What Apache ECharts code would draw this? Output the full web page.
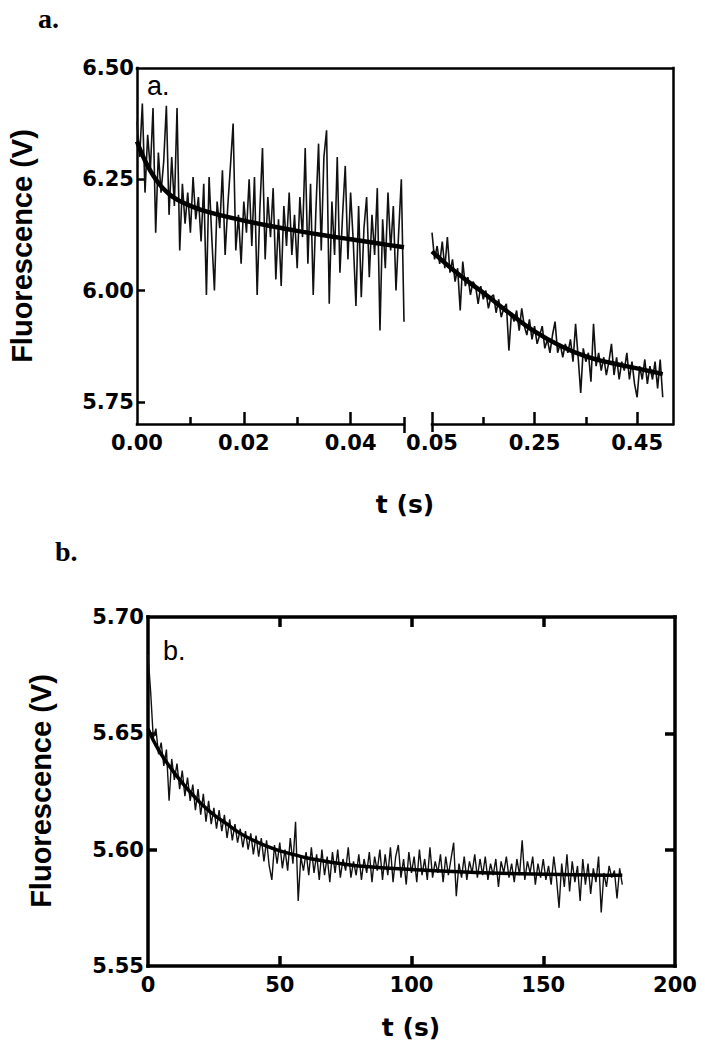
<!DOCTYPE html>
<html><head><meta charset="utf-8">
<script src="https://cdn.jsdelivr.net/npm/echarts@6/dist/echarts.min.js"></script>
<style>html,body{margin:0;padding:0;background:#fff}#c{width:705px;height:1050px}</style>
</head><body><div id="c"></div>
<script>
// ---------- Panel a, early phase (0 - 0.05 s) ----------
const aEarlyStart = 0;
const aEarlyStep = 0.0005;
const aEarlyTrace = [
6.38,6.30,6.42,6.22,6.35,6.27,6.41,6.13,6.31,6.22,
6.29,6.415,6.17,6.30,6.19,6.41,6.09,6.24,6.15,6.22,
6.13,6.255,6.16,6.21,6.11,6.24,5.99,6.255,6.12,6.00,
6.20,6.14,6.27,6.08,6.19,6.28,6.375,6.09,6.17,6.06,
6.20,6.13,6.25,6.10,6.255,5.99,6.18,6.32,6.07,6.21,
6.12,6.23,6.025,6.16,6.01,6.19,6.10,6.22,6.08,6.17,
6.05,6.21,6.12,6.32,6.06,6.24,5.99,6.18,6.33,6.09,
6.30,6.36,5.97,6.20,6.08,6.30,6.04,6.17,6.28,6.07,
6.22,6.11,5.965,6.19,5.985,6.14,6.21,6.03,6.17,6.08,
6.23,5.91,6.16,6.05,6.22,6.09,6.19,6.00,6.13,6.25,
5.93];
const aEarlyFitT = [0,0.001,0.002,0.003,0.004,0.005,0.006,0.007,0.008,0.010,0.012,0.015,0.020,0.025,0.030,0.035,0.040,0.045,0.050];
const aEarlyFitV = [6.335,6.305,6.280,6.259,6.242,6.228,6.217,6.208,6.201,6.190,6.181,6.171,6.157,6.145,6.134,6.124,6.115,6.106,6.097];

// ---------- Panel a, late phase (0.05 - 0.5 s) ----------
const aLateStart = 0.05;
const aLateStep = 0.005;
const aLateTrace = [
6.13,6.07,6.10,6.06,6.11,6.05,6.12,6.04,6.07,6.02,
6.05,5.955,6.065,6.01,6.03,5.99,6.02,6.01,5.97,6.01,
5.98,6.00,5.96,5.985,5.99,5.95,5.98,5.94,5.96,5.97,
5.865,5.95,5.93,5.955,5.91,5.96,5.92,5.90,5.935,5.89,
5.92,5.88,5.90,5.92,5.87,5.89,5.86,5.90,5.93,5.86,
5.88,5.85,5.88,5.86,5.89,5.84,5.925,5.85,5.77,5.87,
5.84,5.86,5.795,5.925,5.83,5.86,5.82,5.85,5.81,5.84,
5.88,5.81,5.85,5.80,5.84,5.82,5.86,5.80,5.84,5.79,
5.76,5.83,5.80,5.845,5.79,5.83,5.80,5.84,5.78,5.845,
5.76];
const aLateFitT = [0.05,0.075,0.10,0.125,0.15,0.20,0.25,0.30,0.35,0.40,0.45,0.50];
const aLateFitV = [6.088,6.062,6.038,6.016,5.995,5.950,5.908,5.876,5.852,5.837,5.825,5.812];

// ---------- Panel b (0 - 180 s) ----------
const bStart = 0;
const bStep = 1;
const bTrace = [
5.684,5.668,5.648,5.652,5.641,5.646,5.636,5.643,5.621,5.639,
5.630,5.637,5.626,5.634,5.623,5.631,5.621,5.628,5.617,5.626,
5.615,5.624,5.612,5.621,5.611,5.618,5.609,5.617,5.608,5.615,
5.605,5.613,5.604,5.611,5.603,5.609,5.601,5.608,5.600,5.607,
5.598,5.606,5.597,5.605,5.595,5.604,5.593,5.587,5.602,5.594,
5.603,5.592,5.600,5.591,5.605,5.594,5.612,5.578,5.597,5.591,
5.599,5.589,5.601,5.590,5.598,5.587,5.600,5.589,5.597,5.586,
5.599,5.590,5.600,5.588,5.596,5.591,5.601,5.588,5.595,5.589,
5.598,5.587,5.596,5.590,5.599,5.586,5.597,5.591,5.600,5.587,
5.598,5.589,5.601,5.586,5.597,5.602,5.588,5.596,5.585,5.599,
5.590,5.597,5.586,5.600,5.589,5.596,5.587,5.601,5.588,5.595,
5.590,5.598,5.586,5.597,5.589,5.596,5.603,5.580,5.594,5.588,
5.597,5.587,5.595,5.590,5.598,5.588,5.596,5.589,5.597,5.587,
5.594,5.589,5.596,5.584,5.595,5.590,5.597,5.588,5.594,5.586,
5.596,5.589,5.604,5.587,5.595,5.590,5.597,5.585,5.594,5.588,
5.596,5.587,5.593,5.585,5.597,5.588,5.575,5.594,5.584,5.598,
5.582,5.595,5.586,5.593,5.578,5.596,5.585,5.594,5.581,5.592,
5.586,5.597,5.573,5.590,5.584,5.593,5.588,5.591,5.579,5.592,
5.585];
const bFitT = [0,2,5,10,15,20,25,30,35,40,45,50,55,60,70,80,100,130,180];
const bFitV = [5.652,5.647,5.641,5.633,5.626,5.620,5.615,5.611,5.607,5.604,5.6015,5.5995,5.598,5.5965,5.5945,5.593,5.5915,5.590,5.589];

// ---------- Tick values ----------
const aYLabels = [5.75, 6.00, 6.25, 6.50];
const aYTicks = [5.75, 6.00, 6.25];
const aEarlyXLabels = [0, 0.02, 0.04];
const aEarlyXMajor = [0.02, 0.04];
const aEarlyXMinor = [0.01, 0.03, 0.05];
const aLateXLabels = [0.05, 0.25, 0.45];
const aLateXMinor = [0.15, 0.35];
const bXLabels = [0, 50, 100, 150, 200];
const bXTicks = [50, 100, 150];
const bYLabels = [5.55, 5.60, 5.65, 5.70];
const bYTicks = [5.60, 5.65];

// ---------- Build ----------
const toPairs = (arr, start, step) => arr.map((v, i) => [start + i * step, v]);
const zip = (t, v) => t.map((x, i) => [x, v[i]]);

const K = '#000';
const tickFont = { fontFamily: 'DejaVu Sans', fontWeight: 'bold', fontSize: 21, color: K };
const lineA = { color: K, width: 2.5, cap: 'square' };
const lineB = { color: K, width: 3.5, cap: 'square' };
const off = { show: false };

function ax(o) {
  const a = Object.assign({ type: 'value', splitLine: off, axisLine: off, axisTick: off, axisLabel: off }, o);
  a.axisLine = Object.assign({ onZero: false }, a.axisLine);
  return a;
}

const xAxis = [
  ax({ gridIndex: 0, min: 0, max: 0.05, position: 'bottom',
    axisLine: { show: true, lineStyle: lineA },
    axisTick: { show: true, inside: true, length: 12, customValues: aEarlyXMajor, lineStyle: { width: 2.5, color: K } },
    axisLabel: Object.assign({ show: true, customValues: aEarlyXLabels, margin: 8, formatter: v => (+v).toFixed(2) }, tickFont) }),
  ax({ gridIndex: 0, min: 0, max: 0.05, position: 'bottom',
    axisTick: { show: true, inside: true, length: 7, customValues: aEarlyXMinor, lineStyle: { width: 2.5, color: K } } }),
  ax({ gridIndex: 0, min: 0, max: 0.05, position: 'bottom',
    axisTick: { show: true, inside: false, length: 9, customValues: [0.05], lineStyle: { width: 2.5, color: K } } }),
  ax({ gridIndex: 1, min: 0.05, max: 0.52, position: 'bottom',
    axisLine: { show: true, lineStyle: lineA },
    axisTick: { show: true, inside: true, length: 12, customValues: aLateXLabels, lineStyle: { width: 2.5, color: K } },
    axisLabel: Object.assign({ show: true, customValues: aLateXLabels, margin: 8, formatter: v => (+v).toFixed(2) }, tickFont) }),
  ax({ gridIndex: 1, min: 0.05, max: 0.52, position: 'bottom',
    axisTick: { show: true, inside: true, length: 7, customValues: aLateXMinor, lineStyle: { width: 2.5, color: K } } }),
  ax({ gridIndex: 1, min: 0.05, max: 0.52, position: 'bottom',
    axisTick: { show: true, inside: false, length: 8, customValues: [0.05], lineStyle: { width: 2.5, color: K } } }),
  ax({ gridIndex: 2, min: 0, max: 1, position: 'top', axisLine: { show: true, lineStyle: lineA } }),
  ax({ gridIndex: 3, min: 0, max: 200, position: 'bottom',
    axisLine: { show: true, lineStyle: lineB },
    axisTick: { show: true, inside: true, length: 10, customValues: bXTicks, lineStyle: { width: 3.5, color: K } },
    axisLabel: Object.assign({ show: true, customValues: bXLabels, margin: 8 }, tickFont) }),
  ax({ gridIndex: 3, min: 0, max: 200, position: 'top',
    axisLine: { show: true, lineStyle: lineB },
    axisTick: { show: true, inside: true, length: 10, customValues: bXTicks, lineStyle: { width: 3.5, color: K } } })
];

const yAxis = [
  ax({ gridIndex: 0, min: 5.70, max: 6.50, position: 'left',
    axisLine: { show: true, lineStyle: lineA },
    axisTick: { show: true, inside: true, length: 8, customValues: aYTicks, lineStyle: { width: 2.5, color: K } },
    axisLabel: Object.assign({ show: true, customValues: aYLabels, margin: 3, formatter: v => (+v).toFixed(2) }, tickFont) }),
  ax({ gridIndex: 1, min: 5.70, max: 6.50, position: 'right', axisLine: { show: true, lineStyle: lineA } }),
  ax({ gridIndex: 2, min: 0, max: 1, position: 'left' }),
  ax({ gridIndex: 3, min: 5.55, max: 5.70, position: 'left',
    axisLine: { show: true, lineStyle: lineB },
    axisTick: { show: true, inside: true, length: 9, customValues: bYTicks, lineStyle: { width: 3.5, color: K } },
    axisLabel: Object.assign({ show: true, customValues: bYLabels, margin: 4, formatter: v => (+v).toFixed(2) }, tickFont) }),
  ax({ gridIndex: 3, min: 5.55, max: 5.70, position: 'right',
    axisLine: { show: true, lineStyle: lineB },
    axisTick: { show: true, inside: true, length: 10, customValues: bYTicks, lineStyle: { width: 3.5, color: K } } })
];

const trace = (xi, yi, data, w) => ({ type: 'line', xAxisIndex: xi, yAxisIndex: yi, data, showSymbol: false, symbol: 'none',
  lineStyle: { color: '#111', width: w }, z: 2, animation: false, silent: true });
const fit = (xi, yi, data, w) => ({ type: 'line', xAxisIndex: xi, yAxisIndex: yi, data, showSymbol: false, symbol: 'none', smooth: 0.4,
  lineStyle: { color: K, width: w }, z: 3, animation: false, silent: true });

const serif = 'bold 28px "Liberation Serif", "DejaVu Serif", serif';
const sans = '27px "Liberation Sans", Arial, sans-serif';
const titleFont = 'bold 29px "Liberation Sans", Arial, sans-serif';
const xtFont = 'bold 25px "DejaVu Sans", sans-serif';
const txt = (x, y, text, font, align, rot) => ({ type: 'text', x, y, rotation: rot || 0, z: 10,
  style: { text, font, fill: K, align: align || 'left', verticalAlign: 'middle' } });

const chart = echarts.init(document.getElementById('c'), null, { renderer: 'svg' });
chart.setOption({
  animation: false,
  backgroundColor: '#fff',
  grid: [
    { left: 137, top: 68, width: 267, height: 356 },
    { left: 432, top: 68, width: 241, height: 356 },
    { left: 137, top: 68, width: 536, height: 356 },
    { left: 148, top: 617, width: 527, height: 349 }
  ],
  xAxis, yAxis,
  series: [
    trace(0, 0, toPairs(aEarlyTrace, aEarlyStart, aEarlyStep), 1.6),
    fit(0, 0, zip(aEarlyFitT, aEarlyFitV), 4.5),
    trace(3, 1, toPairs(aLateTrace, aLateStart, aLateStep), 1.6),
    fit(3, 1, zip(aLateFitT, aLateFitV), 4.5),
    trace(7, 3, toPairs(bTrace, bStart, bStep), 1.4),
    fit(7, 3, zip(bFitT, bFitV), 3.5)
  ],
  graphic: [
    txt(38, 18, 'a.', serif),
    txt(147, 86, 'a.', sans),
    txt(22, 246, 'Fluorescence (V)', titleFont, 'center', Math.PI / 2),
    txt(405, 504, 't (s)', xtFont, 'center'),
    txt(55, 551, 'b.', serif),
    txt(163, 651, 'b.', sans),
    txt(41, 791, 'Fluorescence (V)', titleFont, 'center', Math.PI / 2),
    txt(411, 1027, 't (s)', xtFont, 'center')
  ]
});
</script>
</body></html>
